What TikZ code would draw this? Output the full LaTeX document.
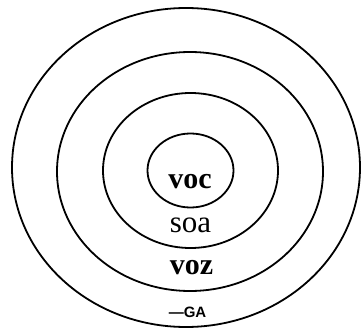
\documentclass[tikz,border=0pt]{standalone}
\usepackage{fontspec}
\setmainfont{Liberation Serif}
\newfontfamily\gafont{Liberation Sans}
\begin{document}
\begin{tikzpicture}[x=1pt,y=-1pt,
  ring/.style={draw=black,line width=1.8pt},
  lbl/.style={inner sep=0pt,text=black}]
\useasboundingbox[fill=white] (0,0) rectangle (362,329);
\draw[ring] (186,167.5) ellipse [x radius=174,y radius=159.5];
\draw[ring] (190,171.5) ellipse [x radius=133,y radius=119.5];
\draw[ring] (190.5,170.5) ellipse [x radius=87.5,y radius=77.5];
\draw[ring] (190.5,170.5) ellipse [x radius=43,y radius=37];
\node[lbl,anchor=base] (voc) at (190,189) {\fontsize{30}{30}\selectfont\bfseries voc};
\node[lbl,anchor=base] (soa) at (190.5,232) {\fontsize{31}{31}\selectfont soa};
\node[lbl,anchor=base] (voz) at (191.5,274) {\fontsize{30}{30}\selectfont\bfseries voz};
\node[lbl,anchor=base] (ga) at (187.5,317.5) {\gafont\bfseries\fontsize{15}{15}\selectfont —GA};
\end{tikzpicture}
\end{document}
